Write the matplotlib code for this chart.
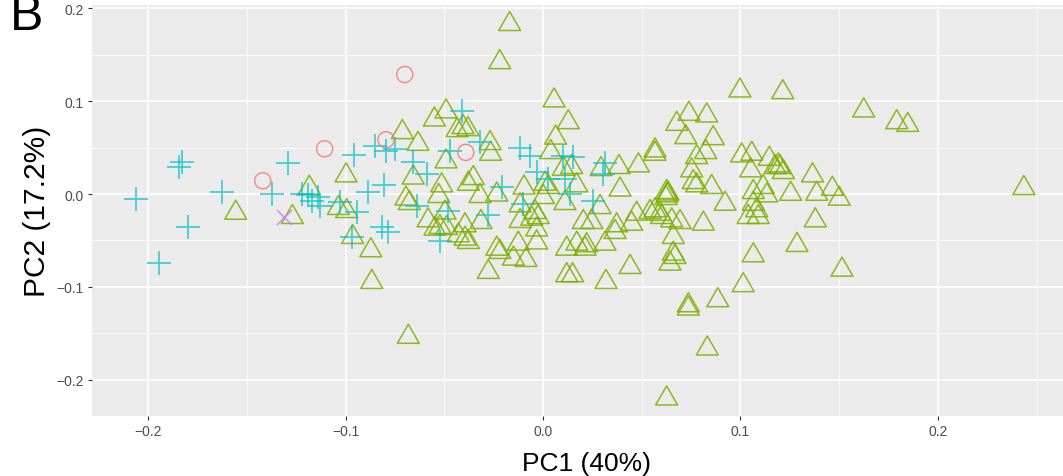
import matplotlib
matplotlib.use("Agg")
import matplotlib.pyplot as plt
from matplotlib.path import Path
from matplotlib.ticker import MultipleLocator

# PCA scores by group
circle_pc1 = [-0.1419, -0.1106, -0.0700, -0.0795, -0.0391]
circle_pc2 = [0.0143, 0.0487, 0.1287, 0.0584, 0.0448]

cross_pc1 = [-0.1310]
cross_pc2 = [-0.0244]

plus_pc1 = [-0.2061, -0.1842, -0.1828, -0.1625, -0.1291, -0.1796, -0.1943, -0.1374,
            -0.1222, -0.1190, -0.1139, -0.1170, -0.1129, -0.1028, -0.0955, -0.0942,
            -0.0885, -0.0805, -0.0851, -0.0795, -0.0749, -0.0657, -0.0589, -0.0639,
            -0.0966, -0.0815, -0.0785, -0.0522, -0.0471, -0.0409, -0.0319, -0.0479,
            -0.0277, -0.0209, -0.0116, -0.0066, -0.0032, -0.0100, 0.0027, 0.0103,
            0.0153, 0.0111, 0.0137, 0.0255, 0.0314, 0.0305]
plus_pc2 = [-0.0054, 0.0294, 0.0347, 0.0025, 0.0330, -0.0352, -0.0739, 0.0000,
            0.0000, -0.0011, -0.0032, -0.0075, -0.0129, -0.0086, 0.0423, -0.0194,
            0.0018, 0.0097, 0.0519, 0.0466, 0.0484, 0.0344, 0.0215, -0.0126,
            -0.0466, -0.0355, -0.0409, -0.0502, 0.0466, 0.0896, 0.0559, -0.0180,
            -0.0226, 0.0072, 0.0495, 0.0412, 0.0233, -0.0108, 0.0161, 0.0409,
            0.0395, 0.0161, 0.0000, -0.0072, 0.0333, 0.0215]

tri_pc1 = [-0.1556, -0.1269, -0.1183, -0.1036, -0.0994, -0.0997, -0.0964, -0.0872,
           -0.0867, -0.0682, -0.0712, -0.0633, -0.0550, -0.0491, -0.0435, -0.0405,
           -0.0380, -0.0491, -0.0657, -0.0694, -0.0677, -0.0582, -0.0513, -0.0528,
           -0.0378, -0.0353, -0.0319, -0.0268, -0.0265, -0.0234, -0.0096, -0.0496,
           -0.0522, -0.0488, -0.0547, -0.0395, -0.0429, -0.0395, -0.0378, -0.0314,
           -0.0116, -0.0041, -0.0024, -0.0057, -0.0032, -0.0116, -0.0234, -0.0218,
           -0.0125, -0.0032, -0.0150, -0.0086, -0.0277, -0.0169, -0.0219, 0.0056,
           0.0128, 0.0064, 0.0039, 0.0145, 0.0103, 0.0171, 0.0010, 0.0027,
           0.0002, 0.0111, 0.0120, 0.0120, 0.0294, 0.0385, 0.0483, 0.0390,
           0.0567, 0.0567, 0.0289, 0.0204, 0.0247, 0.0373, 0.0474, 0.0542,
           0.0567, 0.0592, 0.0626, 0.0629, 0.0623, 0.0633, 0.0449, 0.0365,
           0.0314, 0.0171, 0.0221, 0.0213, 0.0652, 0.0694, 0.0601, 0.0660,
           0.0660, 0.0668, 0.0643, 0.0812, 0.0922, 0.0778, 0.0854, 0.0761,
           0.0753, 0.0778, 0.0824, 0.0723, 0.0862, 0.0677, 0.0739, 0.0829,
           0.0997, 0.1214, 0.1006, 0.1057, 0.1052, 0.1146, 0.1175, 0.1191,
           0.1065, 0.1115, 0.1133, 0.1254, 0.1065, 0.1082, 0.1039, 0.1090,
           0.1286, 0.1065, 0.1014, 0.0441, 0.0150, 0.0319, 0.0736, 0.0736,
           0.0885, 0.0832, 0.0626, 0.1624, 0.1791, 0.1847, 0.1200, 0.1217,
           0.1365, 0.1386, 0.1465, 0.1500, 0.2435, 0.1379, 0.1514]
tri_pc2 = [-0.0169, -0.0215, 0.0100, -0.0118, -0.0151, 0.0233, -0.0430, -0.0573,
           -0.0914, -0.1505, 0.0699, 0.0573, 0.0835, 0.0922, 0.0720, 0.0753,
           0.0731, 0.0384, 0.0210, -0.0016, -0.0065, -0.0251, 0.0126, 0.0011,
           0.0143, 0.0204, 0.0011, 0.0581, 0.0466, 0.0027, 0.0102, -0.0167,
           -0.0323, -0.0333, -0.0341, -0.0304, -0.0412, -0.0448, -0.0484, -0.0269,
           -0.0089, -0.0161, -0.0215, -0.0233, -0.0349, -0.0258, -0.0556, -0.0591,
           -0.0502, -0.0489, -0.0663, -0.0677, -0.0806, 0.1863, 0.1452, 0.1040,
           0.0806, 0.0640, 0.0484, 0.0323, 0.0304, 0.0126, 0.0143, 0.0108,
           0.0000, -0.0065, -0.0556, -0.0842, 0.0301, 0.0323, 0.0341, 0.0081,
           0.0502, 0.0466, -0.0108, -0.0269, -0.0269, -0.0304, -0.0180, -0.0161,
           -0.0143, -0.0180, 0.0054, 0.0018, -0.0011, 0.0038, -0.0287, -0.0376,
           -0.0502, -0.0502, -0.0519, -0.0556, -0.0251, -0.0269, -0.0215, -0.0430,
           -0.0610, -0.0645, -0.0717, -0.0287, -0.0072, 0.0126, 0.0108, 0.0161,
           0.0287, 0.0430, 0.0484, 0.0645, 0.0634, 0.0788, 0.0896, 0.0878,
           0.1147, 0.1129, 0.0448, 0.0466, 0.0287, 0.0412, 0.0323, 0.0341,
           0.0054, 0.0108, 0.0018, 0.0035, -0.0072, -0.0143, -0.0215, -0.0215,
           -0.0516, -0.0627, -0.0949, -0.0753, -0.0842, -0.0914, -0.1165, -0.1201,
           -0.1111, -0.1631, -0.2169, 0.0932, 0.0806, 0.0777, 0.0323, 0.0269,
           0.0233, 0.0035, 0.0089, -0.0018, 0.0097, -0.0251, -0.0782]

xticks = [-0.2, -0.1, 0.0, 0.1, 0.2]
yticks = [-0.2, -0.1, 0.0, 0.1, 0.2]
tick_text = ["\u22120.2", "\u22120.1", "0.0", "0.1", "0.2"]

plt.rcParams["font.family"] = ["Liberation Sans", "DejaVu Sans"]

# ggplot-like open triangle (equilateral, centred on its box)
tri = Path([(-1, -0.866), (1, -0.866), (0, 0.866), (-1, -0.866)],
           [Path.MOVETO, Path.LINETO, Path.LINETO, Path.CLOSEPOLY])

fig = plt.figure(figsize=(10.63, 4.77), dpi=100)
ax = fig.add_axes([0.0865, 0.1258, 0.9313, 0.8616])
ax.set_facecolor("#EBEBEB")
for s in ax.spines.values():
    s.set_visible(False)

ax.xaxis.set_major_locator(MultipleLocator(0.1))
ax.xaxis.set_minor_locator(MultipleLocator(0.05))
ax.yaxis.set_major_locator(MultipleLocator(0.1))
ax.yaxis.set_minor_locator(MultipleLocator(0.05))
ax.grid(which="major", color="white", linewidth=1.1)
ax.grid(which="minor", color="white", linewidth=0.55)
ax.set_axisbelow(True)

ax.scatter(tri_pc1, tri_pc2, marker=tri, s=250, facecolors="none",
           edgecolors="#7CAE00", linewidths=1.1, alpha=0.85)
ax.scatter(plus_pc1, plus_pc2, marker="+", s=300, color="#00BFC4",
           linewidths=1.3, alpha=0.7)
ax.scatter(circle_pc1, circle_pc2, marker="o", s=135, facecolors="none",
           edgecolors="#F8766D", linewidths=1.0, alpha=0.85)
ax.scatter(cross_pc1, cross_pc2, marker="x", s=115, color="#C77CFF",
           linewidths=1.1, alpha=0.85)

ax.set_xlim(-0.2284, 0.2729)
ax.set_ylim(-0.2390, 0.2035)
ax.set_xticks(xticks)
ax.set_yticks(yticks)
ax.set_xticklabels(tick_text)
ax.set_yticklabels(tick_text)
ax.tick_params(which="major", length=3, width=0.8, color="#333333",
               labelcolor="#4D4D4D", labelsize=10, pad=3)
ax.tick_params(which="minor", length=0)

ax.set_xlabel("PC1 (40%)", fontsize=19, color="black", labelpad=9)
ax.set_ylabel("PC2 (17.2%)", fontsize=21.5, color="black", labelpad=4)

fig.text(0.009, 0.938, "B", fontsize=36, color="black", ha="left", va="baseline")

fig.savefig("out.png", dpi=100)
